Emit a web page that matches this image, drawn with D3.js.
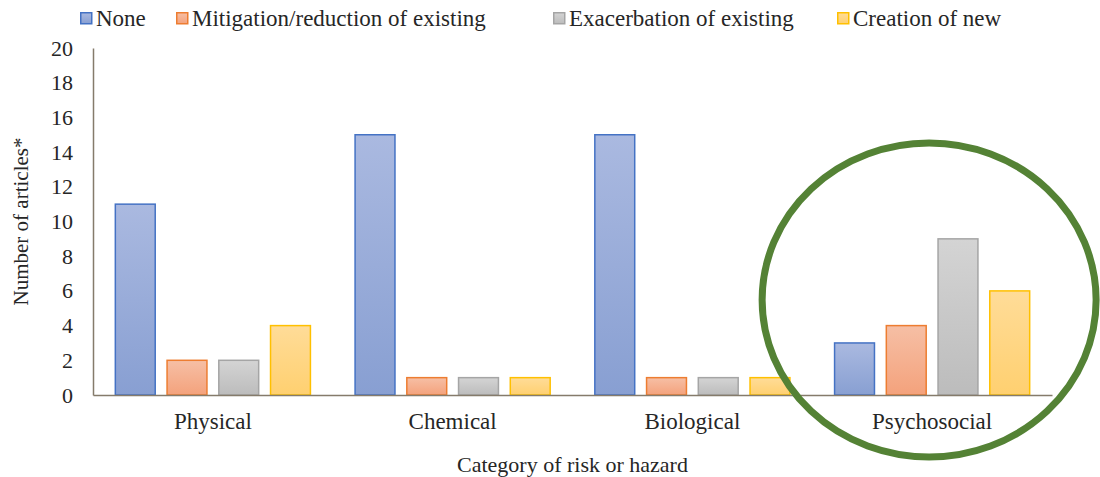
<!DOCTYPE html>
<html>
<head>
<meta charset="utf-8">
<script src="https://cdn.jsdelivr.net/npm/d3@7"></script>
<style>
  body { margin: 0; background: #fff; }
  svg text { font-family: "Times New Roman", "Liberation Serif", Tinos, "DejaVu Serif", serif; fill: #262626; }
</style>
</head>
<body>
<div id="chart"></div>
<script>
var categories = ["Physical", "Chemical", "Biological", "Psychosocial"];
var seriesNames = ["None", "Mitigation/reduction of existing", "Exacerbation of existing", "Creation of new"];
var noneValues = [11, 15, 15, 3];
var mitigationValues = [2, 1, 1, 4];
var exacerbationValues = [2, 1, 1, 9];
var creationValues = [4, 1, 1, 6];
var yTicks = [0, 2, 4, 6, 8, 10, 12, 14, 16, 18, 20];

var seriesValues = [noneValues, mitigationValues, exacerbationValues, creationValues];

var svgWidth = 1100;
var svgHeight = 477;
var margin = { top: 48, right: 48, bottom: 82, left: 93 };
var chartWidth = svgWidth - margin.left - margin.right;
var chartHeight = svgHeight - margin.top - margin.bottom;

// fill gradients (top, bottom) and outline per series
var styles = [
  { top: "#aab9e0", bottom: "#889fd2", stroke: "#4472c4" },
  { top: "#f6bfa5", bottom: "#f4a27c", stroke: "#ed7d31" },
  { top: "#d4d4d4", bottom: "#bcbcbc", stroke: "#a5a5a5" },
  { top: "#ffdc98", bottom: "#ffd070", stroke: "#ffc000" }
];

var svg = d3.select("#chart")
  .append("svg")
  .attr("width", svgWidth)
  .attr("height", svgHeight);

var defs = svg.append("defs");
styles.forEach(function(s, i) {
  var g = defs.append("linearGradient")
    .attr("id", "grad" + i)
    .attr("x1", 0).attr("y1", 0).attr("x2", 0).attr("y2", 1);
  g.append("stop").attr("offset", "0%").attr("stop-color", s.top);
  g.append("stop").attr("offset", "100%").attr("stop-color", s.bottom);
});

var chartGroup = svg.append("g")
  .attr("transform", `translate(${margin.left}, ${margin.top})`);

var x0 = d3.scaleBand()
  .domain(categories)
  .range([0, chartWidth])
  .paddingInner(0.18)
  .paddingOuter(0.09);

var x1 = d3.scaleBand()
  .domain(d3.range(seriesNames.length))
  .range([0, x0.bandwidth()])
  .paddingInner(0.2);

var yScale = d3.scaleLinear()
  .domain([0, 20])
  .range([chartHeight, 0]);

// y axis
var leftAxis = d3.axisLeft(yScale).tickValues(yTicks).tickSize(0).tickPadding(20);
var yAxis = chartGroup.append("g").call(leftAxis).attr("font-family", null);
yAxis.select(".domain").attr("stroke", "#857b6b").attr("stroke-width", 1.5);
yAxis.selectAll("text").style("font-size", "22px");

// bars
var groups = chartGroup.selectAll(".cat")
  .data(categories)
  .enter()
  .append("g")
  .attr("transform", d => `translate(${x0(d)}, 0)`);

groups.selectAll("rect")
  .data((d, ci) => seriesValues.map((vals, si) => ({ s: si, v: vals[ci] })))
  .enter()
  .append("rect")
  .attr("x", d => x1(d.s) + 0.75)
  .attr("y", d => yScale(d.v))
  .attr("width", x1.bandwidth() - 1.5)
  .attr("height", d => chartHeight - yScale(d.v))
  .attr("fill", d => `url(#grad${d.s})`)
  .attr("stroke", d => styles[d.s].stroke)
  .attr("stroke-width", 1.5);

// x axis
var bottomAxis = d3.axisBottom(x0).tickSize(0).tickPadding(18);
var xAxis = chartGroup.append("g")
  .attr("transform", `translate(0, ${chartHeight})`)
  .call(bottomAxis)
  .attr("font-family", null);
xAxis.select(".domain").attr("stroke", "#857b6b").attr("stroke-width", 1.5);
xAxis.selectAll("text").style("font-size", "23px");

// axis titles
svg.append("text")
  .attr("x", margin.left + chartWidth / 2)
  .attr("y", 472)
  .attr("text-anchor", "middle")
  .style("font-size", "22px")
  .text("Category of risk or hazard");

svg.append("text")
  .attr("transform", `translate(28, ${margin.top + chartHeight / 2}) rotate(-90)`)
  .attr("text-anchor", "middle")
  .style("font-size", "21px")
  .text("Number of articles*");

// legend
var legendX = [80, 176, 553, 837];
var legend = svg.append("g");
seriesNames.forEach(function(name, i) {
  var item = legend.append("g").attr("transform", `translate(${legendX[i]}, 12)`);
  item.append("rect")
    .attr("x", 0.75).attr("y", 0.75)
    .attr("width", 11).attr("height", 11)
    .attr("fill", `url(#grad${i})`)
    .attr("stroke", styles[i].stroke)
    .attr("stroke-width", 1.5);
  item.append("text")
    .attr("x", 16)
    .attr("y", 14)
    .style("font-size", "23px")
    .text(name);
});

// highlight circle around psychosocial
svg.append("ellipse")
  .attr("cx", margin.left + x0("Psychosocial") + x0.bandwidth() / 2 - 3)
  .attr("cy", 300)
  .attr("rx", 167)
  .attr("ry", 157)
  .attr("fill", "none")
  .attr("stroke", "#548235")
  .attr("stroke-width", 7);
</script>
</body>
</html>
